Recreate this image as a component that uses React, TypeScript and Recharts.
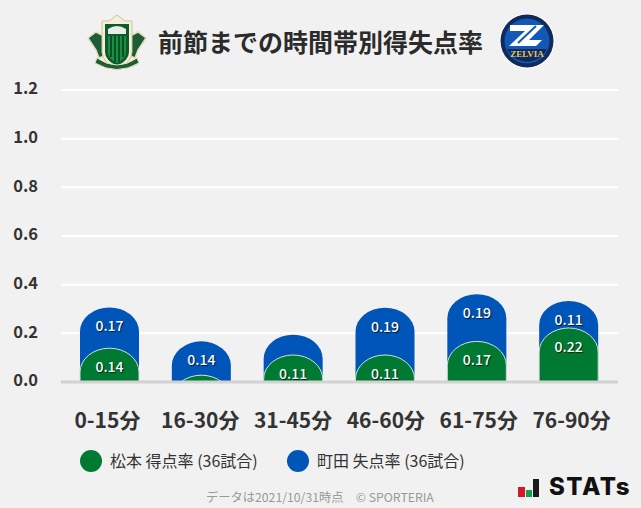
import { Bar, BarChart, CartesianGrid, LabelList, XAxis, YAxis } from "recharts";

const FONT = '"Noto Sans CJK JP", "Noto Sans", sans-serif';

const periods = ["0-15分", "16-30分", "31-45分", "46-60分", "61-75分", "76-90分"];
const matsumotoScored = [0.139, 0.028, 0.111, 0.111, 0.167, 0.222];
const machidaConceded = [0.167, 0.139, 0.083, 0.194, 0.194, 0.111];
// labels that the original leaves off because the segment is too small
const matsumotoLabels = ["0.14", "", "0.11", "0.11", "0.17", "0.22"];
const machidaLabels = ["0.17", "0.14", "", "0.19", "0.19", "0.11"];
const yTicks = [0, 0.2, 0.4, 0.6, 0.8, 1.0, 1.2];

const rows = periods.map((period, i) => ({
  period,
  scored: matsumotoScored[i],
  total: matsumotoScored[i] + machidaConceded[i],
  scoredLabel: matsumotoLabels[i],
  concededLabel: machidaLabels[i],
}));

/** Elliptical dome; a bar shorter than the dome is cut off flat by the baseline. */
function DomeBar(props: any) {
  const { x, y, width, height, fill, stroke } = props;
  const rx = width / 2;
  const ry = 24;
  const base = y + height;
  const mid = x + rx;
  let d: string;
  if (height >= ry) {
    d = `M${x},${base} L${x},${y + ry} A${rx},${ry} 0 0 1 ${x + width},${y + ry} L${x + width},${base} Z`;
  } else {
    const dy = (ry - height) / ry;
    const half = rx * Math.sqrt(1 - dy * dy);
    d = `M${mid - half},${base} A${rx},${ry} 0 0 1 ${mid + half},${base} Z`;
  }
  return <path d={d} fill={fill} stroke={stroke} strokeWidth={1} />;
}

const barLabelStyle = {
  fill: "#fff",
  fontFamily: FONT,
  fontSize: 14,
  fontWeight: 500,
  textShadow: "1px 1px 1px rgba(0,0,0,0.7)",
};

function MatsumotoLogo() {
  return (
    <svg width={60} height={58} style={{ position: "absolute", left: 87, top: 14 }} viewBox="0 0 60 58">
      {/* wings */}
      <path d="M1 24 L9 18 L17 22 L17 42 L12 44 L9 36 Z" fill="#1d5c38" stroke="#e6ddb4" strokeWidth={1.5} />
      <path d="M59 24 L51 18 L43 22 L43 42 L48 44 L51 36 Z" fill="#1d5c38" stroke="#e6ddb4" strokeWidth={1.5} />
      {/* shield */}
      <path d="M15 7 L22 7 L30 1 L38 7 L45 7 L45 38 Q45 48 30 55 Q15 48 15 38 Z" fill="#f4efd8" stroke="#cfc48e" />
      <path d="M18 10 H42 V38 Q42 46 30 52 Q18 46 18 38 Z" fill="#0d5a30" />
      <path d="M21 15 Q30 9 39 15 L39 20 H21 Z" fill="#e8eee6" />
      <path d="M21 22 H39 V38 Q39 45 30 49 Q21 45 21 38 Z" fill="#17913f" />
      <path d="M24 22 V43 M28 22 V48 M32 22 V48 M36 22 V43" stroke="#0b4f27" strokeWidth={2} />
      {/* banner */}
      <path d="M10 44 Q30 58 50 44 L52 49 Q30 62 8 49 Z" fill="#1d5c38" stroke="#e6ddb4" />
    </svg>
  );
}

function ZelviaLogo() {
  return (
    <svg width={56} height={56} style={{ position: "absolute", left: 499, top: 13 }} viewBox="0 0 56 56">
      <circle cx={28} cy={28} r={27.5} fill="#fff" />
      <circle cx={28} cy={28} r={26.5} fill="#102a5c" />
      <circle cx={28} cy={28} r={22.5} fill="#1259b5" />
      <path d="M11 12 H45 L30 27 H43 L37 33 H10 L26 18 H11 Z" fill="#fff" />
      <path d="M19 30 L37 13" stroke="#1259b5" strokeWidth={2} />
      <path d="M8 36 A22 22 0 0 0 48 36 Z" fill="#102a5c" />
      <text x={28} y={44} textAnchor="middle" fontFamily="Liberation Serif" fontWeight={700} fontSize={9} fill="#e6c66a">
        ZELVIA
      </text>
    </svg>
  );
}

function StatsLogo() {
  return (
    <div style={{ position: "absolute", left: 517, top: 476, width: 120, height: 24 }}>
      <div style={{ position: "absolute", left: 1, top: 11, width: 7, height: 10, background: "#d3182b" }} />
      <div style={{ position: "absolute", left: 9, top: 14, width: 6, height: 7, background: "#13a04a" }} />
      <div style={{ position: "absolute", left: 16, top: 3, width: 6, height: 18, background: "#1a1a1a" }} />
      <div
        style={{
          position: "absolute",
          left: 32,
          top: -4,
          fontFamily: "Inter, sans-serif",
          fontSize: 24,
          fontWeight: 800,
          color: "#111",
          letterSpacing: 1.5,
          whiteSpace: "nowrap",
        }}
      >
        STATs
      </div>
    </div>
  );
}

function LegendItem({ left, color, text }: { left: number; color: string; text: string }) {
  return (
    <>
      <div
        style={{
          position: "absolute",
          left,
          top: 450,
          width: 22,
          height: 22,
          borderRadius: "50%",
          background: color,
        }}
      />
      <div
        style={{
          position: "absolute",
          left: left + 30,
          top: 449,
          fontFamily: FONT,
          fontSize: 16,
          lineHeight: "22px",
          color: "#333",
          whiteSpace: "nowrap",
        }}
      >
        {text}
      </div>
    </>
  );
}

export default function App() {
  return (
    <div style={{ position: "absolute", left: 0, top: 0, width: 641, height: 508, background: "#f1f1f1", overflow: "hidden" }}>
      <BarChart
        width={641}
        height={508}
        data={rows}
        margin={{ top: 90, right: 23, left: 0, bottom: 0 }}
        barSize={59}
        barGap={-59}
      >
        <CartesianGrid vertical={false} stroke="#fff" strokeWidth={2} />
        {/* tick labels sit on the full plot width, the bars on a slightly narrower band */}
        <XAxis
          dataKey="period"
          height={126}
          axisLine={{ stroke: "#d2d2d2", strokeWidth: 3 }}
          tickLine={false}
          tickMargin={25}
          interval={0}
          tick={{ fill: "#333", fontFamily: FONT, fontSize: 21, fontWeight: 700 }}
        />
        <XAxis xAxisId="bars" dataKey="period" hide padding={{ left: 3, right: 3 }} />
        <YAxis
          width={61}
          domain={[0, 1.2]}
          ticks={yTicks}
          tickFormatter={(v: number) => v.toFixed(1)}
          axisLine={false}
          tickLine={false}
          tickMargin={17}
          tick={{ fill: "#333", fontFamily: FONT, fontSize: 16.5, fontWeight: 700, dy: -1.5 }}
        />
        <Bar xAxisId="bars" dataKey="total" fill="#0055b8" shape={<DomeBar />} isAnimationActive={false}>
          <LabelList dataKey="concededLabel" position="insideTop" offset={14} style={barLabelStyle} />
        </Bar>
        <Bar xAxisId="bars" dataKey="scored" fill="#007a33" stroke="#cfe0d6" shape={<DomeBar />} isAnimationActive={false}>
          <LabelList dataKey="scoredLabel" position="insideTop" offset={14} style={barLabelStyle} />
        </Bar>
      </BarChart>

      <MatsumotoLogo />
      <div
        style={{
          position: "absolute",
          left: 158,
          top: 22,
          fontFamily: FONT,
          fontSize: 25,
          lineHeight: "38px",
          fontWeight: 700,
          color: "#2b2b2b",
          whiteSpace: "nowrap",
        }}
      >
        前節までの時間帯別得失点率
      </div>
      <ZelviaLogo />

      <LegendItem left={80} color="#007a33" text="松本 得点率 (36試合)" />
      <LegendItem left={287} color="#0055b8" text="町田 失点率 (36試合)" />

      <div
        style={{
          position: "absolute",
          left: 206,
          top: 488,
          fontFamily: FONT,
          fontSize: 12.25,
          lineHeight: "18px",
          color: "#999",
          whiteSpace: "pre",
        }}
      >
        データは2021/10/31時点　© SPORTERIA
      </div>
      <StatsLogo />
    </div>
  );
}
